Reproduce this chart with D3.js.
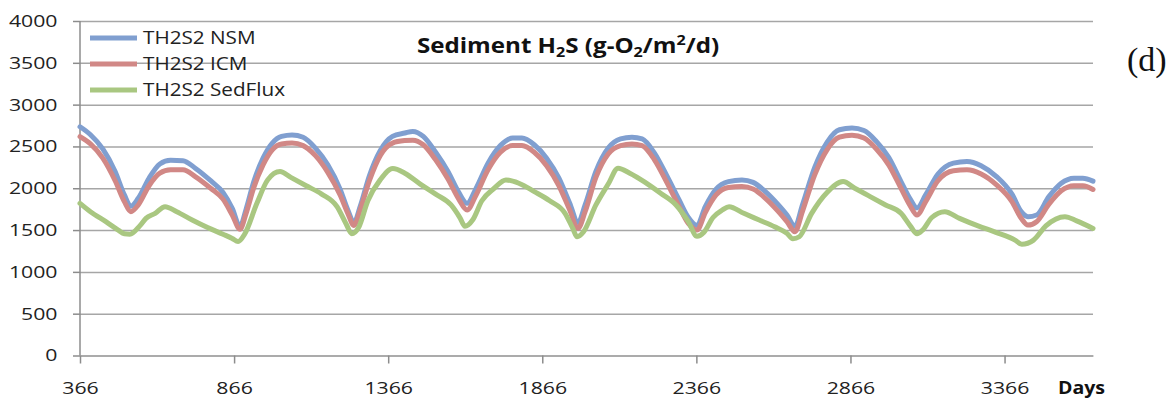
<!DOCTYPE html>
<html>
<head>
<meta charset="utf-8">
<script src="https://cdn.jsdelivr.net/npm/d3@7"></script>
<style>
  body { margin: 0; background: #fff; }
  svg { display: block; }
</style>
</head>
<body>
<script>
// data (day, value)
var nsmDays = [366,400,440,480,510,531,555,590,625,660,700,740,790,830,860,885,905,930,960,990,1020,1054,1090,1130,1170,1210,1235,1255,1275,1305,1340,1380,1420,1446,1480,1520,1560,1595,1622,1650,1690,1730,1770,1800,1840,1880,1920,1955,1982,2005,2040,2080,2120,2157,2190,2230,2270,2310,2340,2368,2395,2430,2470,2514,2550,2590,2630,2660,2686,2710,2750,2790,2830,2871,2910,2950,2990,3030,3060,3082,3110,3150,3200,3244,3290,3340,3390,3420,3442,3470,3510,3550,3591,3620,3653];
var nsmValues = [2735,2640,2470,2200,1920,1785,1880,2120,2290,2335,2330,2240,2090,1950,1760,1545,1750,2080,2360,2540,2620,2637,2610,2480,2280,1990,1740,1590,1780,2150,2450,2620,2660,2680,2620,2430,2200,1950,1820,1990,2300,2510,2600,2600,2520,2360,2120,1820,1590,1800,2200,2480,2590,2610,2590,2420,2150,1860,1650,1555,1780,1990,2080,2100,2070,1960,1810,1680,1545,1800,2250,2550,2700,2720,2690,2560,2370,2080,1870,1765,1920,2170,2300,2320,2270,2140,1930,1720,1660,1680,1900,2060,2120,2120,2085];

var icmValues = [2617,2530,2360,2090,1840,1720,1800,2030,2180,2220,2220,2140,2000,1870,1680,1510,1700,2010,2280,2460,2530,2540,2510,2390,2190,1920,1700,1555,1740,2090,2390,2540,2570,2575,2520,2340,2110,1870,1740,1910,2220,2430,2510,2510,2430,2270,2030,1740,1520,1720,2130,2410,2510,2530,2510,2340,2070,1780,1580,1500,1710,1920,2010,2020,1990,1880,1730,1600,1480,1720,2160,2460,2610,2635,2600,2470,2280,2000,1790,1680,1840,2090,2210,2220,2170,2040,1840,1640,1560,1600,1810,1970,2030,2030,1985];

var sedDays = [366,400,450,490,510,528,560,580,610,642,680,730,780,830,860,879,900,940,975,1015,1050,1100,1150,1200,1230,1248,1270,1300,1340,1381,1420,1470,1520,1570,1600,1615,1640,1670,1710,1748,1790,1840,1890,1940,1965,1979,2000,2040,2080,2112,2150,2200,2250,2300,2340,2368,2390,2420,2450,2472,2520,2570,2620,2660,2679,2700,2740,2790,2842,2880,2930,2980,3030,3060,3082,3100,3130,3172,3220,3280,3340,3400,3422,3460,3500,3562,3600,3653];
var sedValues = [1820,1720,1600,1500,1455,1450,1550,1640,1700,1780,1720,1620,1530,1450,1400,1362,1450,1820,2100,2200,2130,2030,1930,1780,1570,1455,1530,1850,2100,2235,2180,2050,1930,1800,1640,1545,1620,1850,2000,2100,2060,1960,1850,1700,1520,1420,1480,1800,2050,2240,2180,2070,1940,1800,1600,1425,1470,1650,1740,1780,1700,1620,1540,1460,1395,1420,1700,1950,2080,2000,1900,1800,1700,1550,1455,1500,1650,1720,1640,1550,1470,1380,1330,1380,1550,1660,1610,1520];

var seriesNames = ['TH2S2 NSM', 'TH2S2 ICM', 'TH2S2 SedFlux'];
var seriesColors = ['#809fd0', '#d18886', '#a9c781'];
var yTicks = [0,500,1000,1500,2000,2500,3000,3500,4000];
var xTicks = [366,866,1366,1866,2366,2866,3366];

var margin = {top: 21, right: 78, bottom: 46.5, left: 80},
    outerWidth = 1171,
    outerHeight = 402,
    width = outerWidth - margin.left - margin.right,
    height = outerHeight - margin.top - margin.bottom;

var font = 'Open Sans, sans-serif';

var svg = d3.select('body').append('svg')
    .attr('width', outerWidth)
    .attr('height', outerHeight);

var g = svg.append('g')
    .attr('transform', 'translate(' + margin.left + ',' + margin.top + ')');

var x = d3.scaleLinear().domain([366, 3653]).range([0, width]);
var y = d3.scaleLinear().domain([0, 4000]).range([height, 0]);

// gridlines + y axis
var yAxis = g.append('g')
    .call(d3.axisLeft(y).tickValues(yTicks).tickFormat(d3.format('d'))
        .tickSize(-width).tickSizeOuter(0).tickPadding(18));
yAxis.select('.domain').remove();
yAxis.selectAll('.tick line').attr('stroke', '#a6a6a6').attr('stroke-width', 1.5);
yAxis.selectAll('.tick').append('line')
    .attr('x1', -7).attr('x2', 0)
    .attr('stroke', '#8c8c8c').attr('stroke-width', 1.5);
yAxis.selectAll('.tick text')
    .attr('font-family', font)
    .attr('font-size', 17)
    .attr('fill', '#222')
    .attr('transform', 'scale(1.25,1)');

g.append('line')
    .attr('x1', 0).attr('x2', 0)
    .attr('y1', 0).attr('y2', height)
    .attr('stroke', '#8c8c8c').attr('stroke-width', 1.5);

var xAxis = g.append('g')
    .attr('transform', 'translate(0,' + height + ')')
    .call(d3.axisBottom(x).tickValues(xTicks).tickFormat(d3.format('d'))
        .tickSize(8).tickSizeOuter(0).tickPadding(18));
xAxis.select('.domain').attr('stroke', '#a6a6a6').attr('stroke-width', 1.5);
xAxis.selectAll('.tick line').attr('stroke', '#8c8c8c').attr('stroke-width', 1.5);
xAxis.selectAll('.tick text')
    .attr('font-family', font)
    .attr('font-size', 17)
    .attr('fill', '#222')
    .attr('transform', 'scale(1.25,1)');

// lines
var line = d3.line()
    .x(d => x(d[0]))
    .y(d => y(d[1]))
    .curve(d3.curveMonotoneX);

var series = [
    d3.zip(nsmDays, nsmValues),
    d3.zip(nsmDays, icmValues),
    d3.zip(sedDays, sedValues)
];

g.selectAll('path.series')
    .data(series)
    .enter()
        .append('path')
        .attr('class', 'series')
        .attr('d', line)
        .attr('fill', 'none')
        .attr('stroke', (d,i) => seriesColors[i])
        .attr('stroke-width', 5)
        .attr('stroke-linejoin', 'round')
        .attr('stroke-linecap', 'round');

// legend
var legend = svg.append('g').attr('transform', 'translate(90,38)');
var items = legend.selectAll('g')
    .data(seriesNames)
    .enter()
        .append('g')
        .attr('transform', (d,i) => 'translate(0,' + (i * 26) + ')');
items.append('line')
    .attr('x1', 0).attr('x2', 47)
    .attr('stroke', (d,i) => seriesColors[i])
    .attr('stroke-width', 5);
items.append('text')
    .attr('transform', 'translate(53,0) scale(1.15,1)')
    .attr('dy', '0.35em')
    .attr('font-family', font)
    .attr('font-size', 18)
    .attr('fill', '#222')
    .text(d => d);

// title
var title = svg.append('text')
    .attr('transform', 'translate(568,53) scale(1.15,1)')
    .attr('text-anchor', 'middle')
    .attr('font-family', font)
    .attr('font-weight', 'bold')
    .attr('font-size', 21)
    .attr('fill', '#111');
title.append('tspan').text('Sediment H');
title.append('tspan').attr('font-size', 14).attr('dy', 4).text('2');
title.append('tspan').attr('dy', -4).text('S (g-O');
title.append('tspan').attr('font-size', 14).attr('dy', 4).text('2');
title.append('tspan').attr('dy', -4).text('/m');
title.append('tspan').attr('font-size', 14).attr('dy', -8).text('2');
title.append('tspan').attr('dy', 8).text('/d)');

svg.append('text')
    .attr('transform', 'translate(1105,394) scale(1.15,1)')
    .attr('text-anchor', 'end')
    .attr('font-family', font)
    .attr('font-weight', 'bold')
    .attr('font-size', 17)
    .attr('fill', '#111')
    .text('Days');

svg.append('text')
    .attr('x', 1127).attr('y', 71)
    .attr('font-family', 'Liberation Serif, serif')
    .attr('font-size', 34)
    .attr('fill', '#111')
    .text('(d)');
</script>
</body>
</html>
